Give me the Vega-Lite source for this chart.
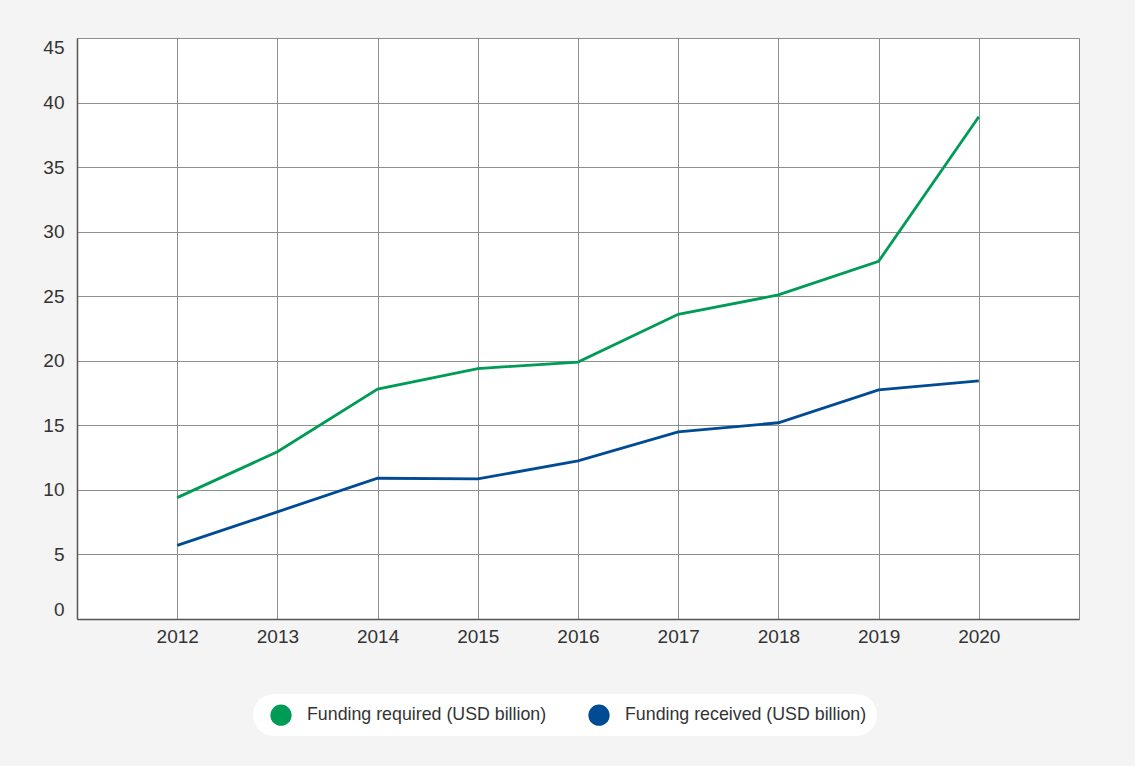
{
  "$schema": "https://vega.github.io/schema/vega-lite/v6.json",
  "width": 1002,
  "height": 581,
  "autosize": {"type": "none"},
  "padding": {"left": 77, "top": 38, "right": 56, "bottom": 147},
  "background": "#f4f4f4",
  "config": {
    "font": "Liberation Sans",
    "view": {"fill": "white", "stroke": "#8a8a8a", "strokeWidth": 1}
  },
  "data": {
    "values": [
      {"year": "2012", "series": "Funding required (USD billion)", "value": 9.4},
      {"year": "2013", "series": "Funding required (USD billion)", "value": 12.95},
      {"year": "2014", "series": "Funding required (USD billion)", "value": 17.8},
      {"year": "2015", "series": "Funding required (USD billion)", "value": 19.4},
      {"year": "2016", "series": "Funding required (USD billion)", "value": 19.9},
      {"year": "2017", "series": "Funding required (USD billion)", "value": 23.6},
      {"year": "2018", "series": "Funding required (USD billion)", "value": 25.1},
      {"year": "2019", "series": "Funding required (USD billion)", "value": 27.7},
      {"year": "2020", "series": "Funding required (USD billion)", "value": 38.9},
      {"year": "2012", "series": "Funding received (USD billion)", "value": 5.7},
      {"year": "2013", "series": "Funding received (USD billion)", "value": 8.3},
      {"year": "2014", "series": "Funding received (USD billion)", "value": 10.9},
      {"year": "2015", "series": "Funding received (USD billion)", "value": 10.85},
      {"year": "2016", "series": "Funding received (USD billion)", "value": 12.25},
      {"year": "2017", "series": "Funding received (USD billion)", "value": 14.5},
      {"year": "2018", "series": "Funding received (USD billion)", "value": 15.2},
      {"year": "2019", "series": "Funding received (USD billion)", "value": 17.75},
      {"year": "2020", "series": "Funding received (USD billion)", "value": 18.45}
    ]
  },
  "mark": {"type": "line", "strokeWidth": 2.8},
  "encoding": {
    "x": {
      "field": "year",
      "type": "ordinal",
      "scale": {"type": "point", "padding": 1},
      "axis": {
        "title": null,
        "labelAngle": 0,
        "labelFontSize": 19,
        "labelColor": "#333333",
        "labelPadding": 8,
        "ticks": false,
        "grid": true,
        "gridColor": "#8f8f8f",
        "gridWidth": 1,
        "domainColor": "#555555",
        "domainWidth": 1.5
      }
    },
    "y": {
      "field": "value",
      "type": "quantitative",
      "scale": {"domain": [0, 45], "nice": false},
      "axis": {
        "title": null,
        "values": [0, 5, 10, 15, 20, 25, 30, 35, 40, 45],
        "labelFontSize": 19,
        "labelColor": "#333333",
        "labelPadding": 13,
        "labelFlush": true,
        "ticks": false,
        "grid": true,
        "gridColor": "#8f8f8f",
        "gridWidth": 1,
        "domainColor": "#555555",
        "domainWidth": 1.5
      }
    },
    "color": {
      "field": "series",
      "type": "nominal",
      "sort": ["Funding required (USD billion)", "Funding received (USD billion)"],
      "scale": {
        "domain": ["Funding required (USD billion)", "Funding received (USD billion)"],
        "range": ["#009b57", "#004b93"]
      },
      "legend": {
        "title": null,
        "orient": "none",
        "direction": "horizontal",
        "legendX": 176,
        "legendY": 656,
        "fillColor": "white",
        "cornerRadius": 22,
        "padding": 10,
        "symbolType": "circle",
        "symbolSize": 452,
        "symbolStrokeWidth": 0,
        "symbolOffset": 7,
        "labelFontSize": 17.8,
        "labelColor": "#333333",
        "labelOffset": 15,
        "columnPadding": 34,
        "labelLimit": 400,
        "encode": {
          "symbols": {
            "update": {
              "fill": {"scale": "color", "field": "value"},
              "strokeWidth": {"value": 0}
            }
          }
        }
      }
    }
  }
}
